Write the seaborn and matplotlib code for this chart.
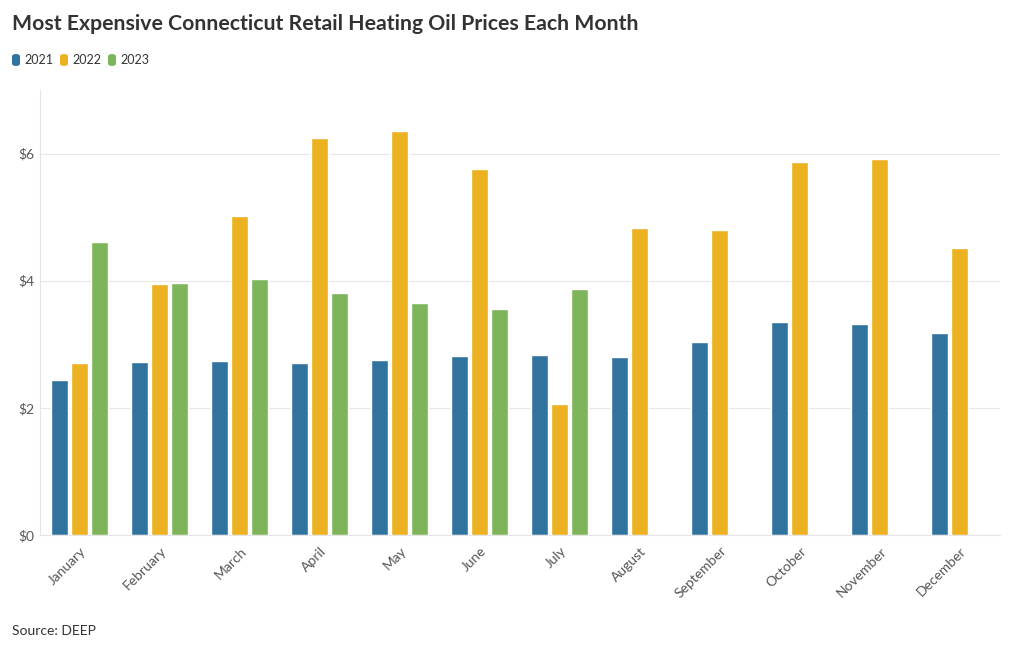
import pandas as pd
import matplotlib.pyplot as plt
import seaborn as sns
from matplotlib.patches import FancyBboxPatch

# ==========================================
# DATA
# ==========================================

months = ['January', 'February', 'March', 'April', 'May', 'June',
          'July', 'August', 'September', 'October', 'November', 'December']

price_2021 = [2.44, 2.72, 2.74, 2.71, 2.76, 2.82, 2.83, 2.80, 3.04, 3.35, 3.32, 3.18]
price_2022 = [2.71, 3.95, 5.02, 6.24, 6.36, 5.75, 2.06, 4.83, 4.80, 5.86, 5.92, 4.52]
price_2023 = [4.61, 3.97, 4.02, 3.81, 3.65, 3.56, 3.87]

years = ['2021', '2022', '2023']
colors = ['#31739f', '#ecb120', '#7fb55a']

rows = []
for yr, vals in zip(years, [price_2021, price_2022, price_2023]):
    for m, v in zip(months, vals):
        rows.append({'Month': m, 'Year': yr, 'Price': v})
df = pd.DataFrame(rows)

# ==========================================
# PLOT
# ==========================================

sns.set_style("white")
plt.rcParams['font.family'] = ['Lato', 'DejaVu Sans']

fig = plt.figure(figsize=(10.2, 6.5), dpi=100)
ax = fig.add_axes([40 / 1020, 115 / 650, 960 / 1020, 445 / 650])

sns.barplot(
    data=df, x='Month', y='Price', hue='Year',
    order=months, hue_order=years,
    palette=colors, width=0.75, gap=0.15,
    saturation=1, legend=False, ax=ax
)

ax.set_xlim(-0.5, 11.5)
ax.set_ylim(0, 7)
ax.set_yticks([0, 2, 4, 6])
ax.set_yticklabels(['$0', '$2', '$4', '$6'])
ax.set_xlabel('')
ax.set_ylabel('')

ax.grid(axis='y', color='#e8e8e8', linewidth=0.8)
ax.set_axisbelow(True)
for s in ['top', 'right']:
    ax.spines[s].set_visible(False)
ax.spines['left'].set_color('#e4e4e4')
ax.spines['bottom'].set_color('#e4e4e4')

ax.tick_params(axis='y', length=0, labelsize=10, labelcolor='#555555', pad=4)
ax.tick_params(axis='x', length=5, color='#dddddd', labelsize=10,
               labelcolor='#555555', pad=2)
plt.setp(ax.get_xticklabels(), rotation=45, ha='right', rotation_mode='anchor')

fig.text(12 / 1020, 1 - 24 / 650, 'Most Expensive Connecticut Retail Heating Oil Prices Each Month',
         fontsize=15.3, fontweight='bold', color='#333333', va='center')

# legend
lx = 12
for yr, c in zip(years, colors):
    fig.patches.append(FancyBboxPatch(
        (lx / 1020, 1 - 66 / 650), 8 / 1020, 12 / 650,
        boxstyle='round,pad=0,rounding_size=0.004',
        transform=fig.transFigure, facecolor=c, edgecolor='none'))
    fig.text((lx + 12) / 1020, 1 - 60 / 650, yr, fontsize=9,
             color='#333333', va='center')
    lx += 48

fig.text(12 / 1020, 1 - 631 / 650, 'Source: DEEP', fontsize=10,
         color='#333333', va='center')

plt.savefig('out.png', dpi=100)
